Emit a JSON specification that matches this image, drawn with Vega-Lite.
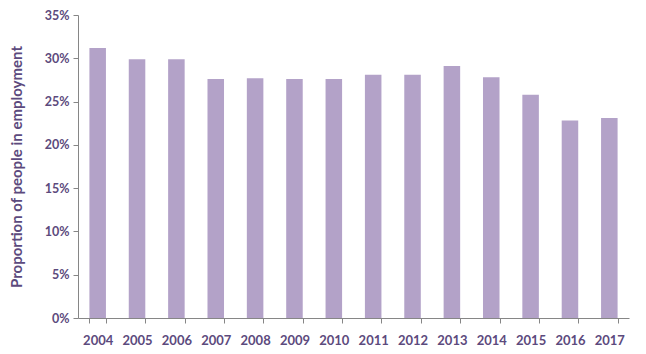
{
  "$schema": "https://vega.github.io/schema/vega-lite/v6.json",
  "width": 551,
  "height": 303,
  "autosize": "none",
  "padding": {"left": 78, "top": 15, "right": 17, "bottom": 36},
  "background": "white",
  "config": {"view": {"stroke": null}},
  "data": {"values": [
    {"year": "2004", "value": 0.312},
    {"year": "2005", "value": 0.299},
    {"year": "2006", "value": 0.299},
    {"year": "2007", "value": 0.276},
    {"year": "2008", "value": 0.277},
    {"year": "2009", "value": 0.276},
    {"year": "2010", "value": 0.276},
    {"year": "2011", "value": 0.281},
    {"year": "2012", "value": 0.281},
    {"year": "2013", "value": 0.291},
    {"year": "2014", "value": 0.278},
    {"year": "2015", "value": 0.258},
    {"year": "2016", "value": 0.228},
    {"year": "2017", "value": 0.231}
  ]},
  "mark": {"type": "bar", "color": "#b3a2c8"},
  "encoding": {
    "x": {
      "field": "year", "type": "ordinal",
      "scale": {"paddingInner": 0.58, "paddingOuter": 0.29},
      "axis": {
        "title": null, "labelAngle": 0, "tickBand": "extent",
        "domainColor": "#868686", "tickColor": "#868686", "tickSize": 5,
        "labelFont": "Lato", "labelFontSize": 13, "labelFontWeight": "bold",
        "labelColor": "#5c4a7d", "labelPadding": 11
      }
    },
    "y": {
      "field": "value", "type": "quantitative",
      "scale": {"domain": [0, 0.35]},
      "axis": {
        "title": "Proportion of people in employment",
        "format": ".0%", "values": [0, 0.05, 0.1, 0.15, 0.2, 0.25, 0.3, 0.35],
        "grid": false,
        "domainColor": "#868686", "tickColor": "#868686", "tickSize": 5,
        "labelFont": "Lato", "labelFontSize": 12.5, "labelFontWeight": "bold",
        "labelColor": "#5c4a7d", "labelPadding": 4,
        "titleFont": "Lato", "titleFontSize": 15, "titleFontWeight": "bold",
        "titleColor": "#5c4a7d", "titlePadding": 20
      }
    }
  }
}
